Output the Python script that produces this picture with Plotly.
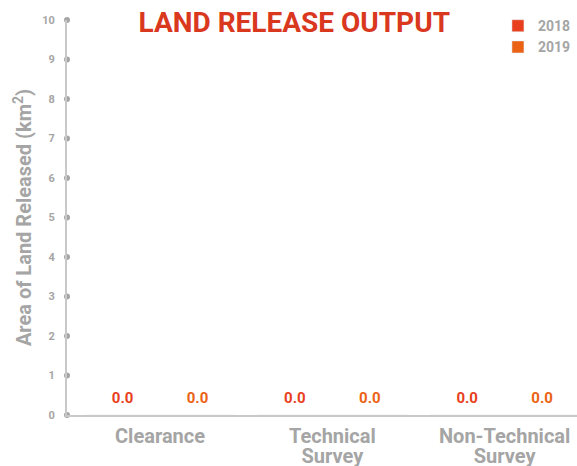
import plotly.graph_objects as go

categories = ["Clearance", "Technical<br>Survey", "Non-Technical<br>Survey"]
years = ["2018", "2019"]
values_2018 = [0.0, 0.0, 0.0]
values_2019 = [0.0, 0.0, 0.0]
y_ticks = list(range(0, 11))

c2018 = "#E8401C"
c2019 = "#EB6214"
gray = "#A5A5A5"
font = "Roboto"

tick_text = ["<br>".join(f"<span style='font-size:20px'>{ln}</span>" for ln in c.split("<br>"))
             for c in categories]

fig = go.Figure()
for name, vals, col in [(years[0], values_2018, c2018), (years[1], values_2019, c2019)]:
    fig.add_trace(go.Bar(
        x=categories, y=vals, name=name, marker_color=col,
        texttemplate="<span style='font-size:15px'>%{y:.1f}</span><br> ", textposition="outside",
        textfont=dict(family=font, size=6, color=col, weight="bold"),
        cliponaxis=False,
    ))

# tick dots on y axis
fig.add_trace(go.Scatter(
    x=[0] * len(y_ticks), y=y_ticks, xaxis="x2", mode="markers",
    marker=dict(color=gray, size=6), showlegend=False, hoverinfo="skip",
    cliponaxis=False,
))

fig.update_layout(
    width=577, height=466,
    margin=dict(l=67, r=0, t=20, b=51),
    paper_bgcolor="white", plot_bgcolor="white",
    barmode="group", bargap=0.13,
    title=dict(text="LAND RELEASE OUTPUT", x=0.51, xanchor="center", y=0.953, yanchor="middle",
               font=dict(family=font, size=28, color="#D9381E", weight="bold")),
    legend=dict(x=0.845, xanchor="left", y=1.025, yanchor="top",
                font=dict(family=font, size=14, color=gray, weight="bold"),
                itemwidth=30, tracegroupgap=0, bgcolor="rgba(0,0,0,0)"),
    xaxis=dict(range=[-0.54, 2.42], showline=True, linecolor="#C8C8C8", linewidth=2,
               showgrid=False, ticks="", zeroline=False, automargin=False,
               tickvals=categories, ticktext=tick_text, ticklabelstandoff=8,
               tickfont=dict(family=font, size=15, color=gray, weight="bold")),
    xaxis2=dict(overlaying="x", range=[0, 1], visible=False),
    yaxis=dict(range=[0, 10], tickvals=y_ticks, showline=True, linecolor="#C8C8C8", linewidth=2,
               showgrid=False, zeroline=False, ticks="", ticklabelstandoff=8, automargin=False,
               tickfont=dict(family=font, size=11, color=gray, weight="bold"),
               title=dict(text="Area of Land Released (km<sup>2</sup>)", standoff=5,
                          font=dict(family=font, size=20, color=gray, weight="bold"))),
)

fig.write_html("out.html", post_script="document.body.style.margin='0';",
               config={"displayModeBar": False})
